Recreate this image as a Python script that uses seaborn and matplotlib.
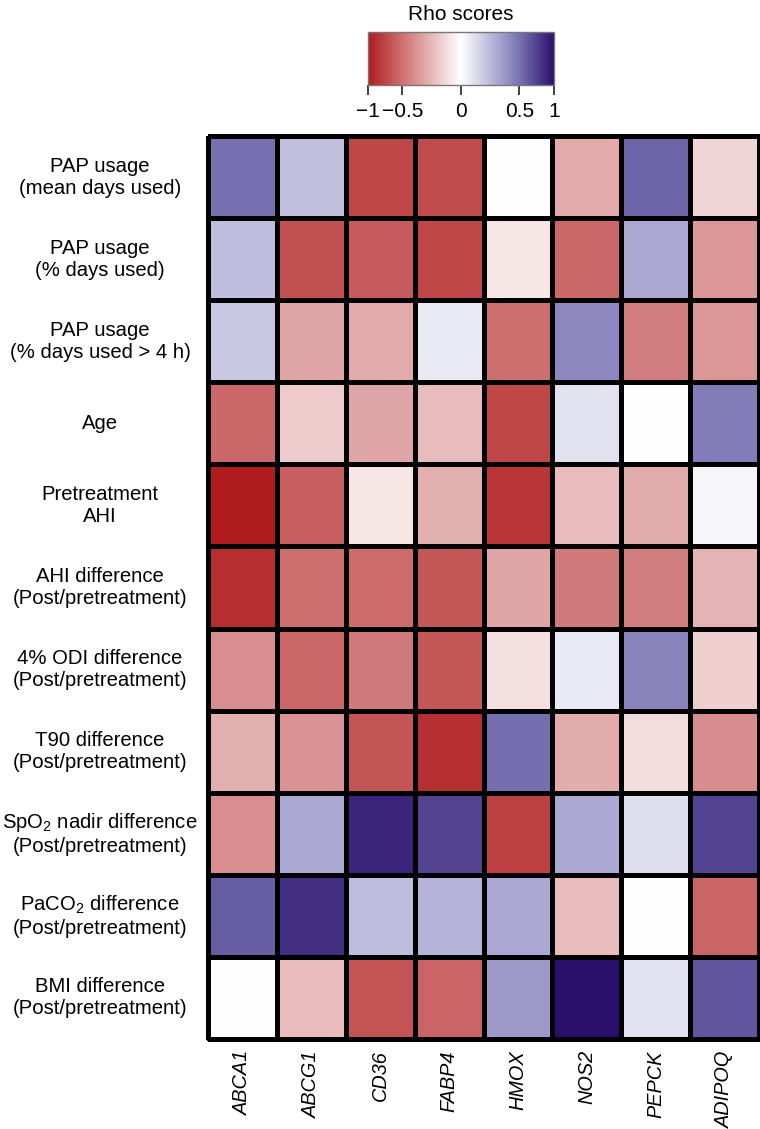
import numpy as np
import pandas as pd
import matplotlib
matplotlib.use('Agg')
import matplotlib.pyplot as plt
from matplotlib.colors import LinearSegmentedColormap, FuncNorm
import seaborn as sns

genes = ['ABCA1', 'ABCG1', 'CD36', 'FABP4', 'HMOX', 'NOS2', 'PEPCK', 'ADIPOQ']

measures = [
    'PAP usage\n(mean days used)',
    'PAP usage\n(% days used)',
    'PAP usage\n(% days used > 4 h)',
    'Age',
    'Pretreatment\nAHI',
    'AHI difference\n(Post/pretreatment)',
    '4% ODI difference\n(Post/pretreatment)',
    'T90 difference\n(Post/pretreatment)',
    'SpO$_2$ nadir difference\n(Post/pretreatment)',
    'PaCO$_2$ difference\n(Post/pretreatment)',
    'BMI difference\n(Post/pretreatment)',
]

# rho per measure (rows), genes in the order above
rho_pap_mean = [0.51, 0.16, -0.73, -0.70, 0.00, -0.23, 0.57, -0.08]
rho_pap_pct = [0.17, -0.68, -0.62, -0.73, -0.04, -0.55, 0.25, -0.31]
rho_pap_4h = [0.13, -0.25, -0.23, 0.03, -0.51, 0.39, -0.44, -0.31]
rho_age = [-0.54, -0.11, -0.25, -0.16, -0.73, 0.05, 0.00, 0.45]
rho_ahi_pre = [-0.99, -0.59, -0.04, -0.21, -0.84, -0.16, -0.22, 0.01]
rho_ahi_diff = [-0.88, -0.51, -0.52, -0.64, -0.25, -0.45, -0.44, -0.19]
rho_odi_diff = [-0.35, -0.55, -0.45, -0.64, -0.05, 0.03, 0.41, -0.10]
rho_t90_diff = [-0.21, -0.33, -0.65, -0.87, 0.52, -0.22, -0.06, -0.36]
rho_spo2_diff = [-0.35, 0.25, 0.88, 0.73, -0.76, 0.25, 0.06, 0.72]
rho_paco2_diff = [0.60, 0.83, 0.17, 0.21, 0.25, -0.16, 0.00, -0.56]
rho_bmi_diff = [0.00, -0.16, -0.66, -0.56, 0.31, 0.99, 0.05, 0.64]

cbar_ticks = [-1, -0.5, 0, 0.5, 1]
cbar_labels = ['\u22121', '\u22120.5', '0', '0.5', '1']

plt.rcParams['font.family'] = ['Liberation Sans', 'DejaVu Sans']
plt.rcParams['mathtext.fontset'] = 'custom'
plt.rcParams['mathtext.rm'] = 'Liberation Sans'
plt.rcParams['mathtext.it'] = 'Liberation Sans:italic'

df = pd.DataFrame(
    [rho_pap_mean, rho_pap_pct, rho_pap_4h, rho_age, rho_ahi_pre, rho_ahi_diff,
     rho_odi_diff, rho_t90_diff, rho_spo2_diff, rho_paco2_diff, rho_bmi_diff],
    index=measures, columns=genes,
)

cmap = LinearSegmentedColormap.from_list('rho', [
    (0.0, '#b01c1e'),
    (0.5, '#ffffff'),
    (0.7, '#aaa8d2'),
    (0.82, '#7670b0'),
    (1.0, '#2a106c'),
])

# colour scale is compressed towards the ends, like the original legend
p = 0.671
norm = FuncNorm(
    (lambda v: np.sign(v) * np.abs(v) ** p, lambda v: np.sign(v) * np.abs(v) ** (1 / p)),
    vmin=-1, vmax=1,
)

fig = plt.figure(figsize=(7.6, 11.29), dpi=100)
ax = fig.add_axes([0.2737, 0.0797, 0.725, 0.7998])
cax = fig.add_axes([0.4838, 0.9247, 0.2451, 0.0469])

sns.heatmap(
    df, ax=ax, cmap=cmap, norm=norm,
    linewidths=2.2, linecolor='black',
    cbar_ax=cax, cbar_kws={'orientation': 'horizontal', 'ticks': cbar_ticks},
)
ax.collections[0].set_clip_on(False)

ax.tick_params(axis='y', length=0, pad=77.8)
ax.set_yticklabels(measures, rotation=0, ha='center', multialignment='center', fontsize=14.6)
ax.tick_params(axis='x', length=0, pad=8)
ax.set_xticklabels(genes, rotation=90, style='italic', fontsize=14.3)
ax.set_xlabel('')
ax.set_ylabel('')

cax.set_xticklabels(cbar_labels, fontsize=15)
cax.tick_params(axis='x', length=7, width=1.2, color='#222222', pad=5)
cax.set_title('Rho scores', fontsize=15, pad=9)
cbar = ax.collections[0].colorbar
cbar.outline.set_edgecolor('#777777')
cbar.outline.set_linewidth(1)

plt.savefig('out.png', dpi=100)
plt.close(fig)
